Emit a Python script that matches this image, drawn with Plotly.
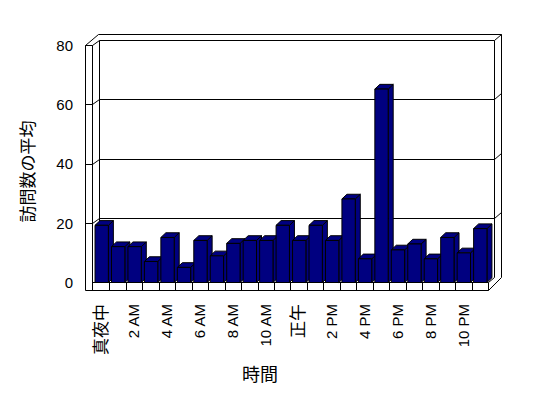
import math
import plotly.graph_objects as go

# ---------------- data ----------------
hours = list(range(24))
visits = [19.3, 12.1, 12.1, 7.1, 15.2, 5.1, 14.2, 9.0, 13.2, 14.2, 14.2, 19.3,
          14.2, 19.3, 14.2, 28.2, 8.0, 65.3, 11.0, 13.0, 8.0, 15.2, 10.0, 18.2]
tick_hours = [0, 2, 4, 6, 8, 10, 12, 14, 16, 18, 20, 22]
tick_labels = ["真夜中", "2 AM", "4 AM", "6 AM", "8 AM", "10 AM",
               "正午", "2 PM", "4 PM", "6 PM", "8 PM", "10 PM"]
y_ticks = [0, 20, 40, 60, 80]
x_title = "時間"
y_title = "訪問数の平均"

# ---------------- geometry (pixels) ----------------
W, H = 548, 398
PL, PR, PT, PB = 85, 502, 34, 291          # plot area box (incl. 3D walls)
X0_PX, STEP_PX = 101.7, 16.46              # centre of first category, category pitch
Y0_PX, UNIT_PX = 282.5, 2.9625             # front plane value 0, px per unit
BAR_W = 0.81                               # bar width in category units
BAR_DX, BAR_DY = 5.0, 4.7                  # bar depth offset (px)
WALL_DX, WALL_DY = 7.0, 5.0                # back wall front face offset (px)
WALL2_DX, WALL2_DY = 13.0, 11.0            # back wall outer face offset (px)
NAVY = "#000080"
FONT = "Liberation Sans, Arial, Noto Sans CJK JP"


def dx(px):
    return (px - X0_PX) / STEP_PX


def dy(py):
    return (Y0_PX - py) / UNIT_PX


def vpx(v):
    return Y0_PX - v * UNIT_PX


def snap(p):
    return math.floor(p) + 0.5


shapes = []


def line(x0, y0, x1, y1):
    x0, y0, x1, y1 = snap(x0), snap(y0), snap(x1), snap(y1)
    shapes.append(dict(type="line", xref="x", yref="y", layer="below",
                       x0=dx(x0), y0=dy(y0), x1=dx(x1), y1=dy(y1),
                       line=dict(color="black", width=1)))


n = len(hours)
front_left = X0_PX - STEP_PX / 2
front_right = X0_PX + STEP_PX * (n - 0.5)
left_out = PL
left_in = front_left - 1
back_l = left_in + WALL_DX
back_r = front_right + WALL_DX - 1
back_r2 = front_right + WALL2_DX
top_front = vpx(y_ticks[-1])
floor_bot = PB - 1

# left wall
line(left_out, top_front, left_out, floor_bot)
line(left_in, top_front, left_in, floor_bot)
line(left_out, top_front, left_in, top_front)
line(left_out, top_front, left_out + WALL2_DX, top_front - WALL2_DY)
line(left_in, top_front, back_l, top_front - WALL_DY)
# back wall
line(left_out + WALL2_DX, top_front - WALL2_DY, back_r2, top_front - WALL2_DY)
line(back_l, top_front - WALL_DY, back_r, top_front - WALL_DY)
line(back_l, top_front - WALL_DY, back_l, vpx(0) - WALL_DY)
line(back_r, top_front - WALL_DY, back_r, vpx(0) - WALL_DY)
line(back_r2, top_front - WALL2_DY, back_r2, floor_bot - 13)
line(back_r, top_front - WALL_DY, back_r2, top_front - WALL2_DY)
# gridlines and ticks
for v in y_ticks[1:-1]:
    y = vpx(v)
    line(back_l, y - WALL_DY, back_r, y - WALL_DY)
    line(left_in, y, back_l, y - WALL_DY)
    line(back_r, y - WALL_DY, back_r2, y - WALL2_DY)
for v in y_ticks[1:]:
    line(left_out, vpx(v), left_in, vpx(v))
# floor
line(left_in, vpx(0), front_right, vpx(0))
line(left_out, floor_bot, front_right, floor_bot)
line(front_right, vpx(0), front_right, floor_bot)
line(front_right, floor_bot, back_r2, floor_bot - 13)
line(front_right, vpx(0), back_r, vpx(0) - WALL_DY)
for k in range(1, n):
    xb = front_left + STEP_PX * k
    line(xb, vpx(0), xb, floor_bot)

# bar top and side faces (3D effect)
ddx = BAR_DX / STEP_PX
ddy = BAR_DY / UNIT_PX
for i, v in zip(hours, visits):
    xl, xr = i - BAR_W / 2, i + BAR_W / 2
    side = f"M {xr},0 L {xr},{v} L {xr+ddx},{v+ddy} L {xr+ddx},{ddy} Z"
    top = f"M {xl},{v} L {xr},{v} L {xr+ddx},{v+ddy} L {xl+ddx},{v+ddy} Z"
    for p in (side, top):
        shapes.append(dict(type="path", xref="x", yref="y", layer="below", path=p,
                           fillcolor=NAVY, line=dict(color="black", width=1)))

fig = go.Figure(go.Bar(x=hours, y=visits, width=BAR_W,
                       marker=dict(color=NAVY, line=dict(color="black", width=1))))


def fmt(t):
    if any(ord(c) > 0x2e80 for c in t):
        return f'<span style="font-size:17px;color:#000000">{t}</span>'
    return t


fig.update_layout(
    width=W, height=H, autosize=False,
    margin=dict(l=PL, r=W - PR, t=PT, b=H - PB, pad=0),
    paper_bgcolor="white", plot_bgcolor="white",
    showlegend=False,
    font=dict(family=FONT, size=15, color="black"),
    shapes=shapes,
    xaxis=dict(range=[dx(PL), dx(PR)], showgrid=False, zeroline=False, showline=False,
               tickmode="array", tickvals=tick_hours, ticktext=[fmt(t) for t in tick_labels],
               tickangle=-90, ticks="", ticklabelstandoff=9,
               tickfont=dict(family=FONT, size=15, color="black")),
    yaxis=dict(range=[dy(PB), dy(PT)], showgrid=False, zeroline=False, showline=False,
               tickmode="array", tickvals=y_ticks, ticktext=[str(v) for v in y_ticks],
               ticks="", ticklabelstandoff=11,
               tickfont=dict(family=FONT, size=15, color="black")),
    annotations=[
        dict(text=y_title, xref="paper", yref="paper",
             x=(28 - PL) / (PR - PL), y=1 - (171.5 - PT) / (PB - PT),
             textangle=-90, showarrow=False, xanchor="center", yanchor="middle",
             font=dict(family=FONT, size=17, color="black")),
        dict(text=x_title, xref="paper", yref="paper",
             x=(260 - PL) / (PR - PL), y=1 - (375 - PT) / (PB - PT),
             showarrow=False, xanchor="center", yanchor="middle",
             font=dict(family=FONT, size=18, color="black")),
    ],
)

fig.write_html("out.html")
